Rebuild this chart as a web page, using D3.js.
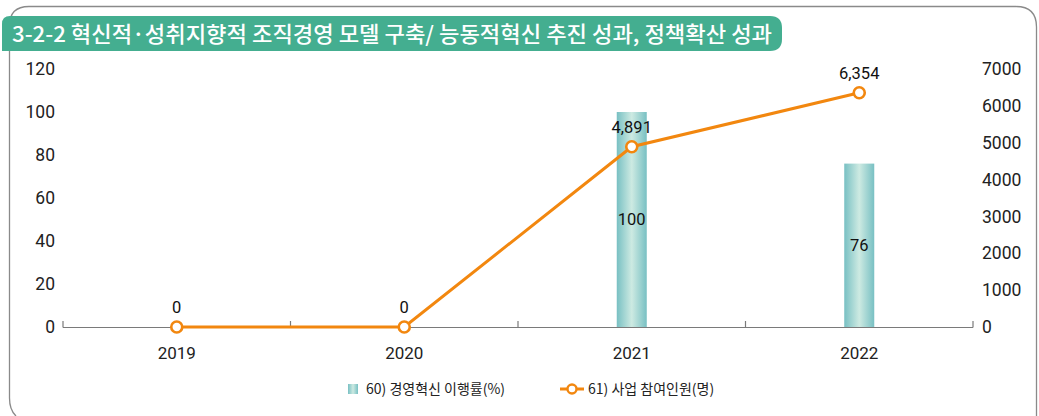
<!DOCTYPE html>
<html><head><meta charset="utf-8">
<script src="https://cdn.jsdelivr.net/npm/d3@7"></script>
<style>
html,body{margin:0;padding:0;background:#fff;}
svg{display:block;font-family:"Noto Sans CJK KR","Noto Sans",sans-serif;}
.num{font-family:Roboto,"Noto Sans CJK KR",sans-serif;}
</style></head>
<body>
<svg id="c" width="1039" height="416"></svg>
<script>
const title = "3-2-2 혁신적·성취지향적 조직경영 모델 구축/ 능동적혁신 추진 성과, 정책확산 성과";
const years = ["2019", "2020", "2021", "2022"];
const rateValues = [null, null, 100, 76];          // 60) 경영혁신 이행률(%)
const peopleValues = [0, 0, 4891, 6354];          // 61) 사업 참여인원(명)
const leftTicks = [0, 20, 40, 60, 80, 100, 120];
const rightTicks = [0, 1000, 2000, 3000, 4000, 5000, 6000, 7000];
const legendLabels = ["60) 경영혁신 이행률(%)", "61) 사업 참여인원(명)"];

const svg = d3.select("#c");
const defs = svg.append("defs");
const g1 = defs.append("linearGradient").attr("id","barGrad").attr("x1","0").attr("x2","1").attr("y1","0").attr("y2","0");
g1.append("stop").attr("offset","0").attr("stop-color","#78c0c3");
g1.append("stop").attr("offset","0.5").attr("stop-color","#cdeae2");
g1.append("stop").attr("offset","1").attr("stop-color","#78c0c3");

// frame
svg.append("path")
  .attr("d","M16,416 Q9.5,410 9.5,398 L9.5,26 Q9.5,6.5 29,6.5 L1016,6.5 Q1036.5,6.5 1036.5,27 L1036.5,430")
  .attr("fill","none").attr("stroke","#8a8a8a").attr("stroke-width",1.3);

// title bar
svg.append("path")
  .attr("d","M2,51 L2,24 Q2,16 10,16 L770,16 Q782,16 782,28 L782,39 Q782,51 770,51 Z")
  .attr("fill","#44ae90");
svg.append("text").attr("x",12).attr("y",42).attr("fill","#fff")
  .attr("font-size",21.5).attr("font-weight",500).attr("textLength",760).attr("lengthAdjust","spacingAndGlyphs")
  .text(title);

const x0 = 63, x1 = 973, yBase = 327, yTop = 69;
const x = d3.scaleBand().domain(years).range([x0, x1]);
const yL = d3.scaleLinear().domain([0,120]).range([yBase, yTop]);
const yR = d3.scaleLinear().domain([0,7000]).range([yBase, yTop]);

// left tick labels
svg.append("g").attr("class","num").selectAll("text").data(leftTicks).join("text")
  .attr("x",55).attr("y",d=>yL(d)).attr("dy","0.35em").attr("text-anchor","end")
  .attr("font-size",17.5).attr("fill","#222").text(d=>d);
// right tick labels
svg.append("g").attr("class","num").selectAll("text").data(rightTicks).join("text")
  .attr("x",982).attr("y",d=>yR(d)).attr("dy","0.35em").attr("text-anchor","start")
  .attr("font-size",17.5).attr("fill","#222").text(d=>d);

// x axis
const ax = svg.append("g").attr("stroke","#7a7a7a").attr("stroke-width",1.2);
ax.append("line").attr("x1",x0).attr("x2",x1).attr("y1",yBase+0.5).attr("y2",yBase+0.5);
const bounds = [x0].concat(years.map(d=>x(d)+x.bandwidth()));
ax.selectAll("line.t").data(bounds).join("line").attr("class","t")
  .attr("x1",d=>d).attr("x2",d=>d).attr("y1",yBase-6).attr("y2",yBase+0.5);
svg.append("g").attr("class","num").selectAll("text").data(years).join("text")
  .attr("x",d=>x(d)+x.bandwidth()/2).attr("y",359).attr("text-anchor","middle")
  .attr("font-size",17).attr("fill","#222").text(d=>d);

// bars
const barW = 30;
const bars = years.map((y,i)=>({y, v: rateValues[i]})).filter(d=>d.v!=null);
svg.append("g").selectAll("rect").data(bars).join("rect")
  .attr("x",d=>x(d.y)+x.bandwidth()/2-barW/2).attr("width",barW)
  .attr("y",d=>yL(d.v)).attr("height",d=>yBase-yL(d.v)).attr("fill","url(#barGrad)");
svg.append("g").attr("class","num").selectAll("text").data(bars).join("text")
  .attr("x",d=>x(d.y)+x.bandwidth()/2).attr("y",d=>(yL(d.v)+yBase)/2).attr("dy","0.35em")
  .attr("text-anchor","middle").attr("font-size",16.5).attr("fill","#111").text(d=>d.v);

// line
const pts = years.map((y,i)=>({y, v: peopleValues[i]}));
svg.append("path").datum(pts)
  .attr("d", d3.line().x(d=>x(d.y)+x.bandwidth()/2).y(d=>yR(d.v)))
  .attr("fill","none").attr("stroke","#f2870f").attr("stroke-width",3);
svg.append("g").selectAll("circle").data(pts).join("circle")
  .attr("cx",d=>x(d.y)+x.bandwidth()/2).attr("cy",d=>yR(d.v)).attr("r",5.5)
  .attr("fill","#fff").attr("stroke","#f2870f").attr("stroke-width",2.6);
svg.append("g").attr("class","num").selectAll("text").data(pts).join("text")
  .attr("x",d=>x(d.y)+x.bandwidth()/2).attr("y",d=>yR(d.v)-14)
  .attr("text-anchor","middle").attr("font-size",16.5).attr("fill","#111")
  .text(d=>d3.format(",")(d.v));

// legend
const lg = svg.append("g");
lg.append("rect").attr("x",348).attr("y",384).attr("width",10).attr("height",10).attr("fill","url(#barGrad)");
lg.append("text").attr("x",366).attr("y",389).attr("dy","0.35em").attr("font-size",14).attr("fill","#222").text(legendLabels[0]);
lg.append("line").attr("x1",560).attr("x2",584).attr("y1",389).attr("y2",389).attr("stroke","#f2870f").attr("stroke-width",3);
lg.append("circle").attr("cx",572).attr("cy",389).attr("r",4.5).attr("fill","#fff").attr("stroke","#f2870f").attr("stroke-width",2.4);
lg.append("text").attr("x",588).attr("y",389).attr("dy","0.35em").attr("font-size",14).attr("fill","#222").text(legendLabels[1]);
</script>
</body></html>
